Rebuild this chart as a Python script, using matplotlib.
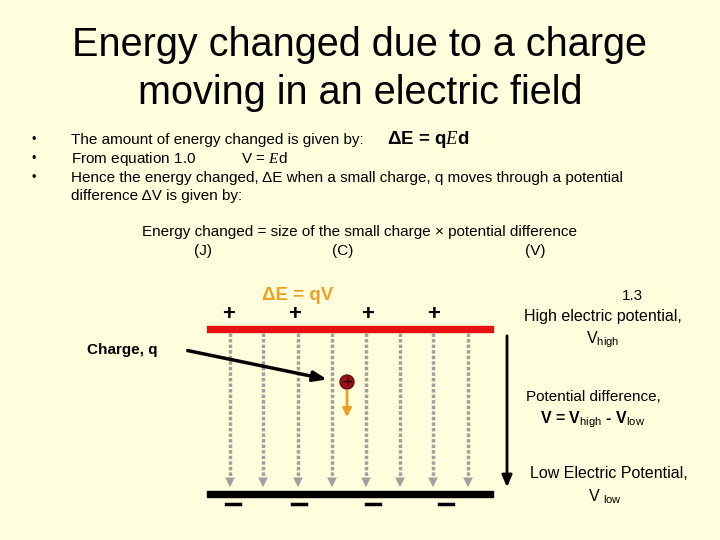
import matplotlib
matplotlib.use("Agg")
import matplotlib.pyplot as plt
from matplotlib.patches import Circle

field_x = [230, 263, 298, 332, 366, 400, 433, 468]
plus_x = [229, 295, 368, 434]
minus_x = [233, 299, 373, 446]
bullets = ["The amount of energy changed is given by:",
           "From equation 1.0           V = $E$d",
           "Hence the energy changed, ΔE when a small charge, q moves through a potential"]

bg = "#FFFFDD"
fig = plt.figure(figsize=(7.2, 5.4), dpi=100, facecolor=bg)
ax = fig.add_axes([0, 0, 1, 1])
ax.set_xlim(0, 720); ax.set_ylim(540, 0); ax.axis("off")
ax.set_facecolor(bg)
F = "Liberation Sans"
plt.rcParams["mathtext.fontset"] = "custom"
plt.rcParams["mathtext.rm"] = F
plt.rcParams["mathtext.it"] = "Liberation Serif:italic"

ax.text(360, 45, "Energy changed due to a charge", ha="center", va="center", fontsize=28.5, family=F)
ax.text(360, 93, "moving in an electric field", ha="center", va="center", fontsize=28.5, family=F)

ys = [140, 159, 178]
for y, t in zip(ys, bullets):
    ax.text(34, y, "•", ha="center", va="center", fontsize=9, family=F)
    ax.text(71, y, t, ha="left", va="center", fontsize=11, family=F)
ax.text(387, 139, "ΔE = q$E$d", ha="left", va="center", fontsize=13.5, family=F, weight="bold")
ax.text(71, 196, "difference ΔV is given by:", ha="left", va="center", fontsize=11, family=F)

ax.text(360, 232, "Energy changed = size of the small charge × potential difference", ha="center", va="center", fontsize=11, family=F)
ax.text(203, 251, "(J)", ha="center", va="center", fontsize=11, family=F)
ax.text(343, 251, "(C)", ha="center", va="center", fontsize=11, family=F)
ax.text(535, 251, "(V)", ha="center", va="center", fontsize=11, family=F)

ax.text(298, 295, "ΔE = qV", ha="center", va="center", fontsize=13.5, family=F, color="#F0A020", weight="bold")
for x in plus_x:
    ax.text(x, 314, "+", ha="center", va="center", fontsize=16, family=F, weight="bold")
ax.fill_between([207, 493], 326, 332, color="#E81010")
ax.fill_between([207, 493], 491, 497, color="black")
for x in minus_x:
    ax.plot([x - 7, x + 7], [504, 504], color="black", lw=2.5)

for x in field_x:
    ax.plot([x, x], [333, 478], color="#A0A0A0", lw=2.5, ls=(0, (1, 0.6)))
    ax.annotate("", xy=(x, 490), xytext=(x, 476),
                arrowprops=dict(arrowstyle="-|>,head_width=0.35,head_length=0.7", color="#A0A0A0", lw=0))

ax.annotate("", xy=(330, 380), xytext=(185, 350),
            arrowprops=dict(arrowstyle="-|>,head_width=0.3,head_length=0.8", color="black", lw=2.5))
ax.annotate("", xy=(347, 420), xytext=(347, 388),
            arrowprops=dict(arrowstyle="-|>,head_width=0.25,head_length=0.5", color="#F0A020", lw=2))
ax.add_patch(Circle((347, 382), 7, facecolor="#A01010", edgecolor="#601010", lw=1))
ax.text(347, 382, "+", ha="center", va="center", fontsize=10, color="black")
ax.annotate("", xy=(507, 490), xytext=(507, 333),
            arrowprops=dict(arrowstyle="-|>,head_width=0.3,head_length=0.7", color="black", lw=2))

ax.text(87, 350, "Charge, q", ha="left", va="center", fontsize=11, family=F, weight="bold")
ax.text(632, 296, "1.3", ha="center", va="center", fontsize=11, family=F)
ax.text(603, 317, "High electric potential,", ha="center", va="center", fontsize=11.5, family=F)
ax.text(603, 340, "V$_{\\mathrm{high}}$", ha="center", va="center", fontsize=11.5, family=F)
ax.text(593, 397, "Potential difference,", ha="center", va="center", fontsize=11, family=F)
ax.text(593, 420, "V = V$_{\\mathrm{high}}$ - V$_{\\mathrm{low}}$", ha="center", va="center", fontsize=11.5, family=F, weight="bold")
ax.text(609, 474, "Low Electric Potential,", ha="center", va="center", fontsize=11.5, family=F)
ax.text(605, 497, "V $_{\\mathrm{low}}$", ha="center", va="center", fontsize=11.5, family=F)

fig.savefig("out.png", dpi=100, facecolor=bg)
